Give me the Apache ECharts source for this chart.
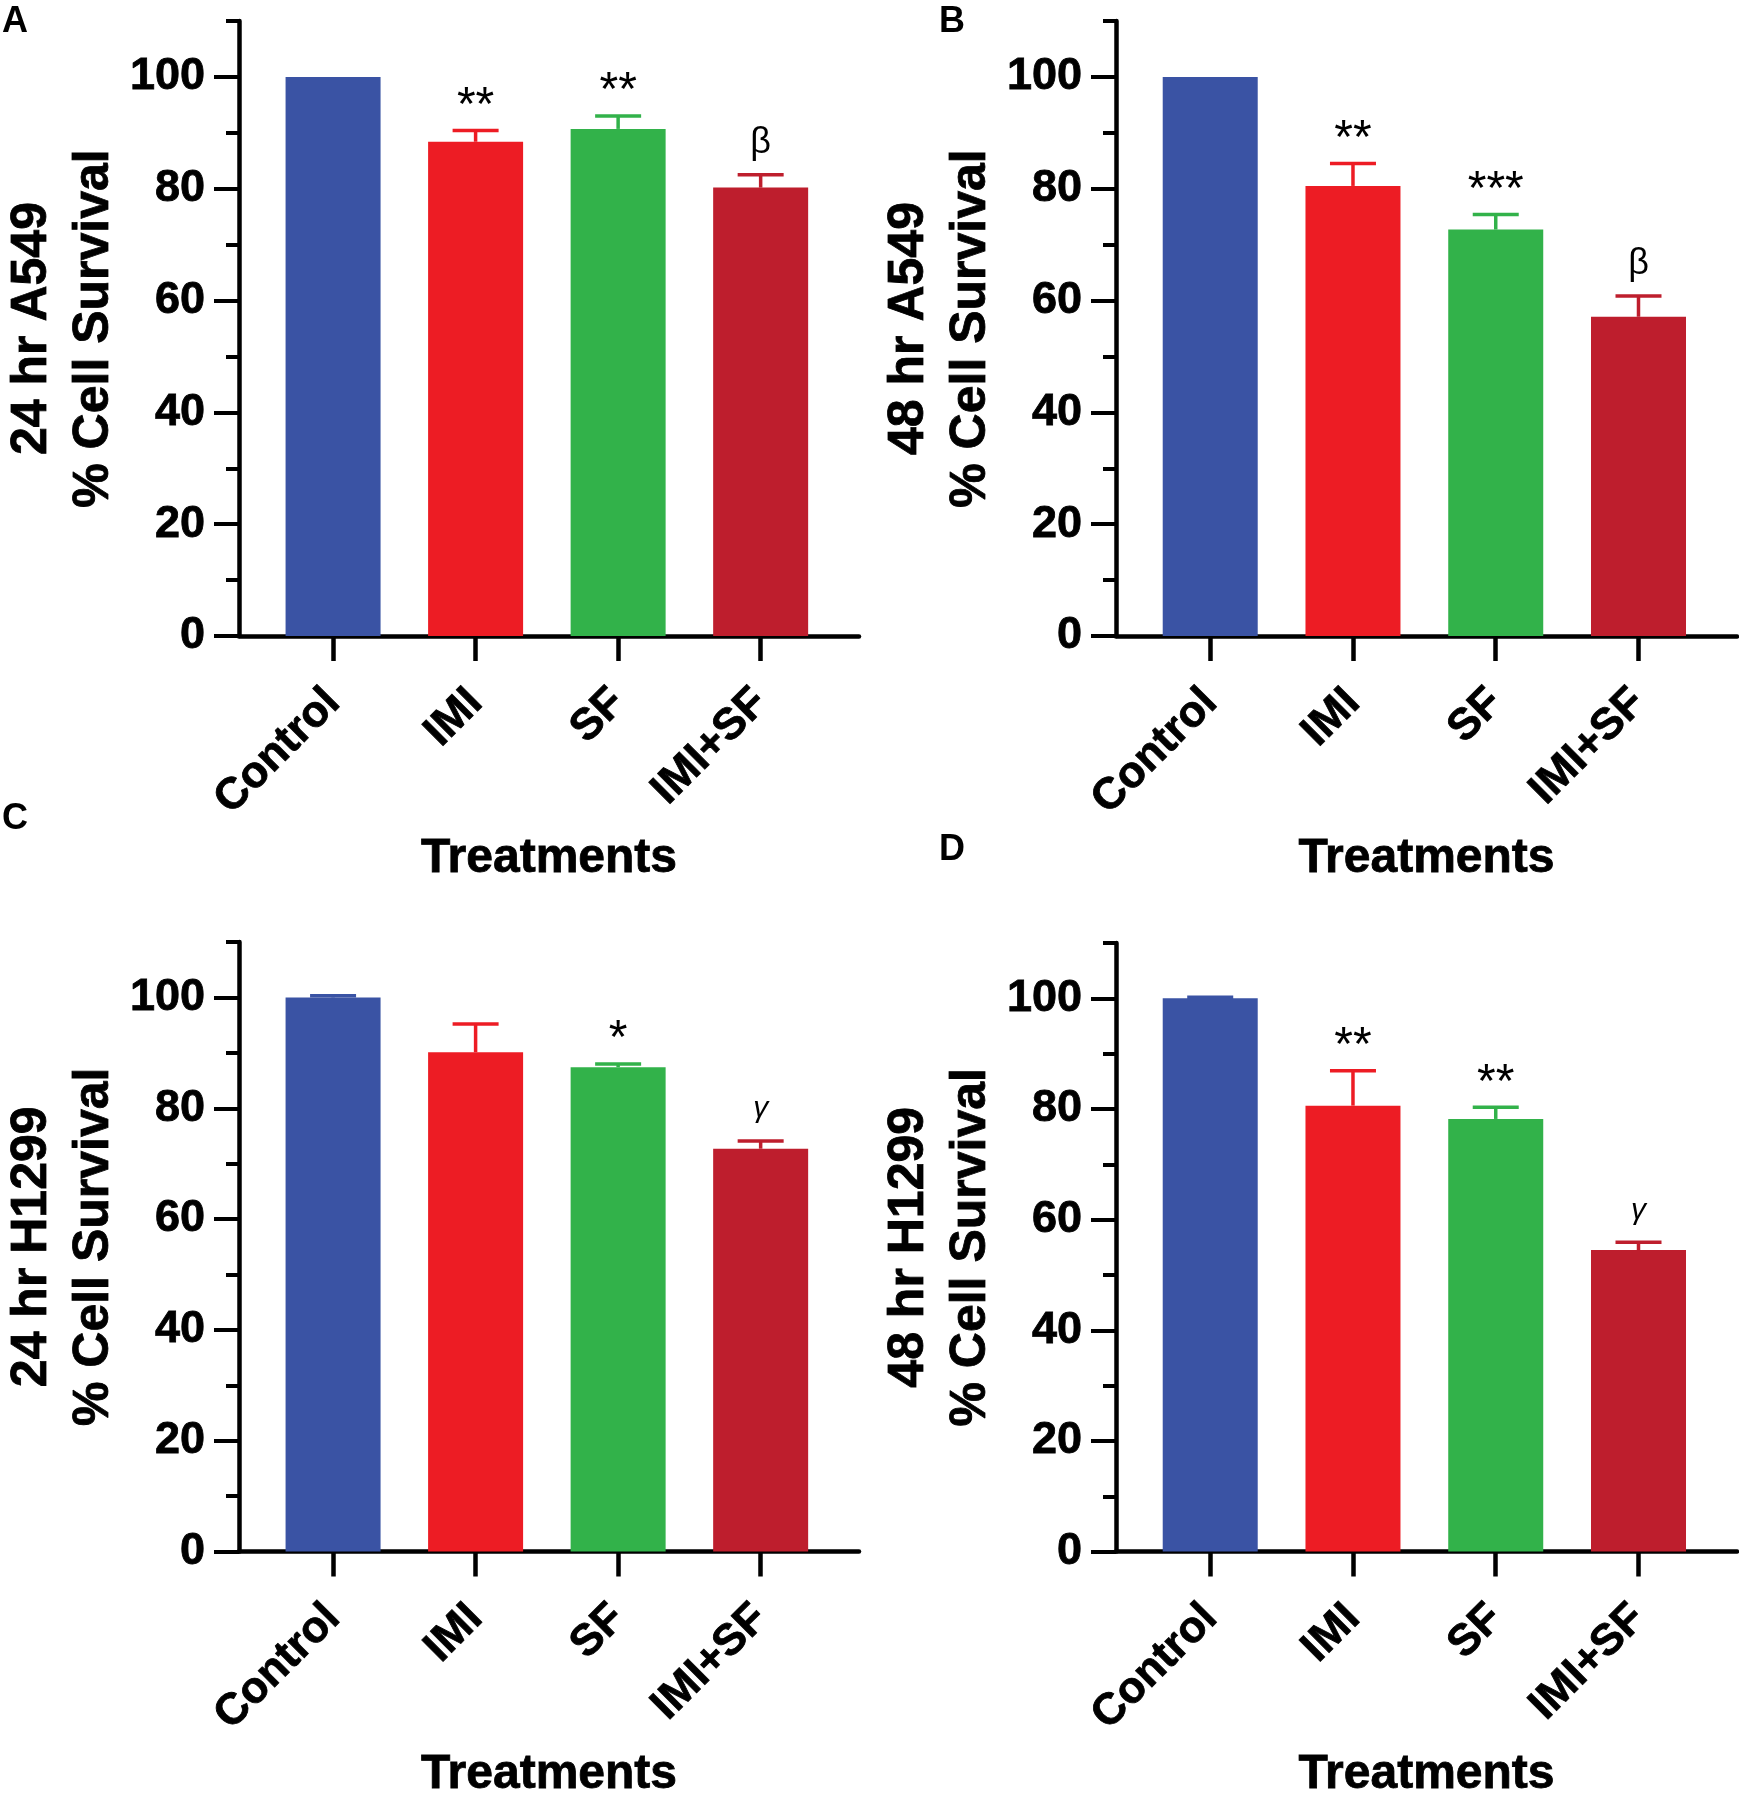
<!DOCTYPE html>
<html>
<head>
<meta charset="utf-8">
<script src="https://cdn.jsdelivr.net/npm/echarts@6/dist/echarts.min.js"></script>
<style>
  html, body { margin: 0; padding: 0; background: #fff; }
  #chart { width: 1739px; height: 1800px; }
</style>
</head>
<body>
<div id="chart"></div>
<script>
// categories and tick labels
const categories = ['Control', 'IMI', 'SF', 'IMI+SF'];
const catTicks = [0, 1, 2, 3];
const yMajorTicks = [0, 20, 40, 60, 80, 100];

// 24 hr A549
const a549_24h = [100, 88.4, 90.7, 80.2];
const a549_24h_err = [0, 2.0, 2.3, 2.3];
const a549_24h_sig = ['', '**', '**', 'β'];
// 48 hr A549
const a549_48h = [100, 80.5, 72.7, 57.1];
const a549_48h_err = [0, 4.0, 2.7, 3.7];
const a549_48h_sig = ['', '**', '***', 'β'];
// 24 hr H1299
const h1299_24h = [100, 90.1, 87.4, 72.7];
const h1299_24h_err = [0.3, 5.1, 0.6, 1.4];
const h1299_24h_sig = ['', '', '*', 'γ'];
// 48 hr H1299
const h1299_48h = [100, 80.6, 78.2, 54.5];
const h1299_48h_err = [0.2, 6.3, 2.1, 1.4];
const h1299_48h_sig = ['', '**', '**', 'γ'];

const barColors = ['#3a53a4', '#ed1c24', '#32b24a', '#be1e2d'];
const font = 'Liberation Sans, Arial, sans-serif';

const panels = [
    { letter: 'A', title: '24 hr A549\n% Cell Survival', mean: a549_24h, err: a549_24h_err, sig: a549_24h_sig,
      grid: { left: 238, top: 21, width: 621, height: 615 }, letterPos: [2, 4] },
    { letter: 'B', title: '48 hr A549\n% Cell Survival', mean: a549_48h, err: a549_48h_err, sig: a549_48h_sig,
      grid: { left: 1116, top: 21, width: 621, height: 615 }, letterPos: [939, 4] },
    { letter: 'C', title: '24 hr H1299\n% Cell Survival', mean: h1299_24h, err: h1299_24h_err, sig: h1299_24h_sig,
      grid: { left: 238, top: 942, width: 621, height: 615 }, letterPos: [2, 801] },
    { letter: 'D', title: '48 hr H1299\n% Cell Survival', mean: h1299_48h, err: h1299_48h_err, sig: h1299_48h_sig,
      grid: { left: 1116, top: 943, width: 621, height: 615 }, letterPos: [939, 832] }
];

const sigStyle = {
    '*': { size: 48, gap: 0, style: 'normal' },
    'β': { size: 36, gap: 14, style: 'normal' },
    'γ': { size: 30, gap: 17, style: 'italic' }
};

const boldText = { color: '#000', fontFamily: font, fontWeight: 'bold', textBorderColor: '#000', textBorderWidth: 0.8 };

const chart = echarts.init(document.getElementById('chart'));

const grid = [], xAxis = [], yAxis = [], series = [], graphic = [];

panels.forEach((p, i) => {
    grid.push(p.grid);
    xAxis.push({
        type: 'value', gridIndex: i, min: -0.66, max: 3.69,
        axisLine: { onZero: false, lineStyle: { color: '#000', width: 4.5 } },
        axisTick: { customValues: catTicks, length: 25, lineStyle: { color: '#000', width: 4.5 } },
        axisLabel: Object.assign({
            customValues: catTicks, rotate: 45, margin: 60, fontSize: 44,
            formatter: (v) => categories[Math.round(v)]
        }, boldText),
        splitLine: { show: false },
        name: 'Treatments', nameLocation: 'middle', nameGap: 199,
        nameTextStyle: Object.assign({ fontSize: 48 }, boldText)
    });
    // axis line + minor ticks
    yAxis.push({
        type: 'value', gridIndex: i, min: 0, max: 110, interval: 10, position: 'left',
        axisLine: { show: true, onZero: false, lineStyle: { color: '#000', width: 4.5 } },
        axisTick: { show: true, length: 13, lineStyle: { color: '#000', width: 4 } },
        axisLabel: { show: false },
        splitLine: { show: false }
    });
    // major ticks + labels + title
    yAxis.push({
        type: 'value', gridIndex: i, min: 0, max: 110, interval: 10, position: 'left',
        axisLine: { show: false, onZero: false },
        axisTick: { show: true, customValues: yMajorTicks, length: 25, lineStyle: { color: '#000', width: 4 } },
        axisLabel: Object.assign({ customValues: yMajorTicks, margin: 34, fontSize: 45 }, boldText),
        splitLine: { show: false },
        name: p.title, nameLocation: 'middle', nameGap: 114,
        nameTextStyle: Object.assign({ fontSize: 50, lineHeight: 62, align: 'center' }, boldText)
    });

    series.push({
        type: 'bar', xAxisIndex: i, yAxisIndex: 2 * i, barWidth: 95,
        data: p.mean.map((v, k) => ({ value: [k, v], itemStyle: { color: barColors[k] } })),
        silent: true
    });

    const sigs = p.sig;
    series.push({
        type: 'custom', xAxisIndex: i, yAxisIndex: 2 * i, z: 5, silent: true,
        data: p.mean.map((v, k) => [k, v, p.err[k]]),
        renderItem: function (params, api) {
            const k = api.value(0), m = api.value(1), e = api.value(2);
            const base = api.coord([k, m]);
            const top = api.coord([k, m + e]);
            const color = barColors[k];
            const children = [];
            if (e > 0) {
                children.push({ type: 'line', shape: { x1: base[0], y1: base[1], x2: top[0], y2: top[1] },
                    style: { stroke: color, lineWidth: 3.5 } });
                children.push({ type: 'line', shape: { x1: top[0] - 23, y1: top[1], x2: top[0] + 23, y2: top[1] },
                    style: { stroke: color, lineWidth: 3.5 } });
            }
            const s = sigs[params.dataIndex];
            if (s) {
                const st = sigStyle[s] || sigStyle['*'];
                children.push({ type: 'text', x: top[0], y: top[1] - st.gap,
                    style: { text: s, fill: '#000', fontFamily: font, fontSize: st.size, fontStyle: st.style,
                        align: 'center', verticalAlign: 'bottom' } });
            }
            return { type: 'group', children: children };
        }
    });

    graphic.push({
        type: 'text', left: p.letterPos[0], top: p.letterPos[1],
        style: { text: p.letter, fill: '#000', font: 'bold 36px ' + font }
    });
});

chart.setOption({
    backgroundColor: '#fff',
    animation: false,
    grid: grid,
    xAxis: xAxis,
    yAxis: yAxis,
    series: series,
    graphic: graphic
});
window.addEventListener('resize', function () {
    chart.resize();
});
</script>
</body>
</html>
